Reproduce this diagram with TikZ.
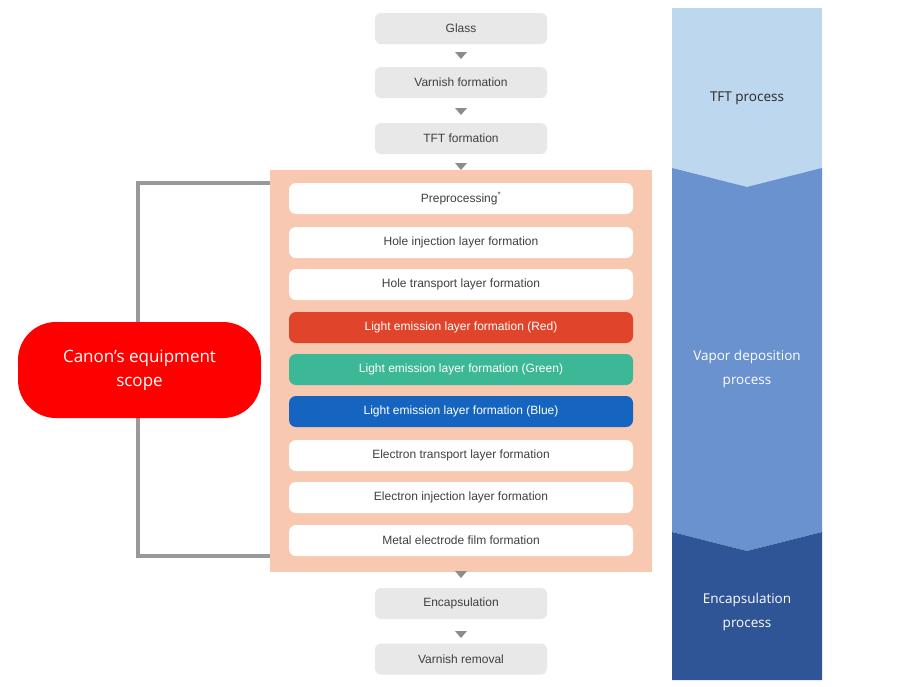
\documentclass[tikz,border=0pt]{standalone}
\usepackage{fontspec}
\setmainfont{Liberation Sans}
\newfontfamily\seg{Open Sans}
\begin{document}
\begin{tikzpicture}[x=1pt,y=-1pt,
 gbox/.style={fill=black!9,rounded corners=6pt,minimum width=172pt,minimum height=31pt,inner sep=0pt,text=black!75,font=\fontsize{12}{14}\selectfont},
 wbox/.style={fill=white,rounded corners=7pt,minimum width=344pt,minimum height=31pt,inner sep=0pt,text=black!75,font=\fontsize{12}{14}\selectfont},
 cbox/.style={wbox,text=white},
 tri/.style={fill=black!45},
 band/.style={text=white,align=center,font=\seg\fontsize{13.5}{24}\selectfont}]
\useasboundingbox (0,0) rectangle (900,686);
\definecolor{lb}{HTML}{BDD7EE}\definecolor{mb}{HTML}{6A92CF}\definecolor{db}{HTML}{2F5597}
% right bands
\fill[lb] (672,8) rectangle (822,188);
\fill[mb] (672,168) -- (747,187) -- (822,168) -- (822,532) -- (747,551) -- (672,532) -- cycle;
\fill[db] (672,532) -- (747,551) -- (822,532) -- (822,680) -- (672,680) -- cycle;
\node[band,text=black!85] (t1) at (747,98) {TFT process};
\node[band] (t2) at (747,369) {Vapor deposition\\process};
\node[band] (t3) at (747,612) {Encapsulation\\process};
% peach
\fill[fill={rgb,255:red,248;green,201;blue,176}] (270,170) rectangle (652,572);
% gray boxes
\node[gbox] (g1) at (461,28.5) {Glass};
\node[gbox] (g2) at (461,82.5) {Varnish formation};
\node[gbox] (g3) at (461,138.5) {TFT formation};
\node[gbox] (g4) at (461,603.5) {Encapsulation};
\node[gbox] (g5) at (461,659) {Varnish removal};
\foreach \y in {52,108,163,571,631}{\fill[black!45] (455,\y) -- (467,\y) -- (461,\y+7) -- cycle;}
% white boxes
\node[wbox] (w1) at (461,198.5) {Preprocessing\textsuperscript{*}};
\node[wbox] (w2) at (461,242.5) {Hole injection layer formation};
\node[wbox] (w3) at (461,284.5) {Hole transport layer formation};
\node[cbox,fill={rgb,255:red,224;green,69;blue,43}] (w4) at (461,327.5) {Light emission layer formation (Red)};
\node[cbox,fill={rgb,255:red,61;green,184;blue,150}] (w5) at (461,369.5) {Light emission layer formation (Green)};
\node[cbox,fill={rgb,255:red,21;green,101;blue,192}] (w6) at (461,411.5) {Light emission layer formation (Blue)};
\node[wbox] (w7) at (461,455.5) {Electron transport layer formation};
\node[wbox] (w8) at (461,497.5) {Electron injection layer formation};
\node[wbox] (w9) at (461,540.5) {Metal electrode film formation};
% bracket
\coordinate (b1) at (270,183);\coordinate (b2) at (270,556);
\draw[black!40,line width=3.5pt] (b1) -- (138,183) -- (138,556) -- (b2);
\node[fill=red,rounded corners=38pt,minimum width=243pt,minimum height=96pt,text=white,align=center,font=\seg\fontsize{17}{24}\selectfont] (c) at (139.5,370) {Canon’s equipment\\scope};
\end{tikzpicture}
\end{document}
